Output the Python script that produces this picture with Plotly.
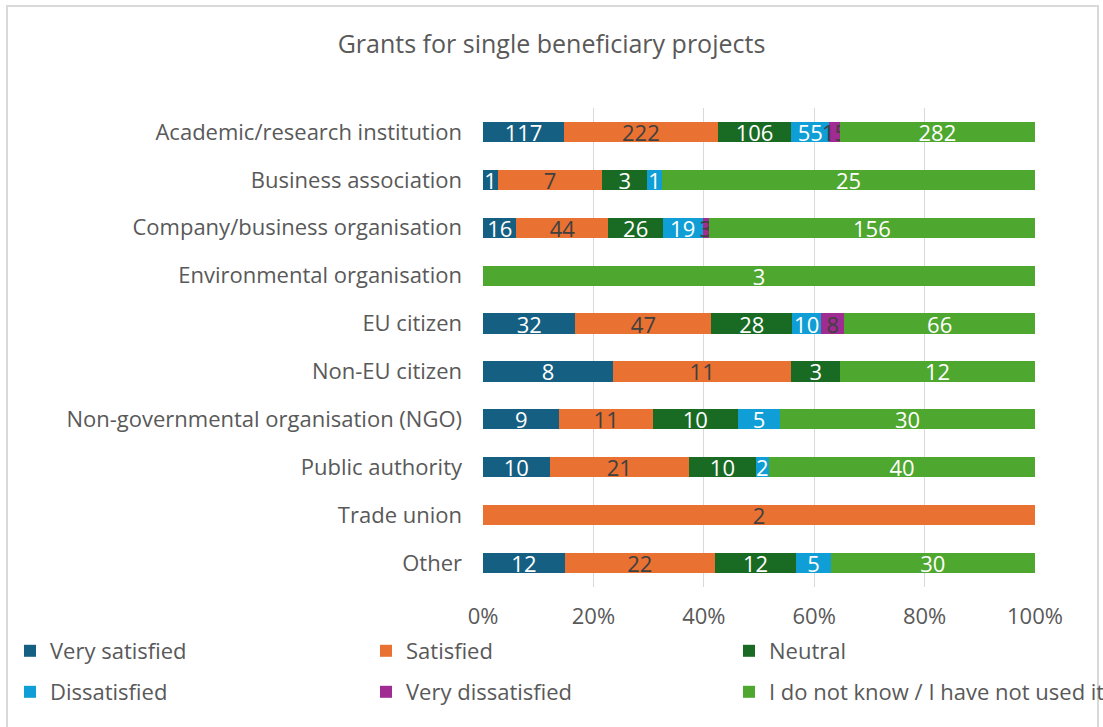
import plotly.graph_objects as go

categories = [
    "Academic/research institution",
    "Business association",
    "Company/business organisation",
    "Environmental organisation",
    "EU citizen",
    "Non-EU citizen",
    "Non-governmental organisation (NGO)",
    "Public authority",
    "Trade union",
    "Other",
]

very_satisfied = [117, 1, 16, 0, 32, 8, 9, 10, 0, 12]
satisfied = [222, 7, 44, 0, 47, 11, 11, 21, 2, 22]
neutral = [106, 3, 26, 0, 28, 3, 10, 10, 0, 12]
dissatisfied = [55, 1, 19, 0, 10, 0, 5, 2, 0, 5]
very_dissatisfied = [15, 0, 3, 0, 8, 0, 0, 0, 0, 0]
not_used = [282, 25, 156, 3, 66, 12, 30, 40, 0, 30]

series = [
    ("Very satisfied", very_satisfied, "#156082", "white"),
    ("Satisfied", satisfied, "#E97132", "#404040"),
    ("Neutral", neutral, "#196B24", "white"),
    ("Dissatisfied", dissatisfied, "#0F9ED5", "white"),
    ("Very dissatisfied", very_dissatisfied, "#A02B93", "#404040"),
    ("I do not know / I have not used it", not_used, "#4EA72E", "white"),
]

# row totals, used to turn counts into 100% stacked shares
totals = [sum(s[1][i] for s in series) for i in range(len(categories))]

FONT = "Open Sans"
FS = 22
TXT = "#595959"
W, H = 1103, 727
ML, MR, MT, MB = 483, 68, 108, 140
pw = W - ML - MR
ph = H - MT - MB

# legend grid: three columns, two rows below the axis (pixel positions)
LEG_COLS = [10, 366, 729]
LEG_ROWS = [651, 692]

fig = go.Figure()
layout_legends = {}
for k, (name, vals, color, tcolor) in enumerate(series):
    shares = [v / t * 100 if t else 0 for v, t in zip(vals, totals)]
    leg_id = "legend" if k == 0 else f"legend{k + 1}"
    fig.add_trace(go.Bar(
        name=name,
        y=categories,
        x=shares,
        orientation="h",
        marker=dict(color=color, line=dict(width=0)),
        text=[str(v) if v else "" for v in vals],
        textposition="inside",
        insidetextanchor="middle",
        textangle=0,
        textfont=dict(family=FONT, size=FS, color=tcolor),
        constraintext="none",
        cliponaxis=False,
        showlegend=True,
        hovertemplate="%{y}<br>" + name + ": %{text}<extra></extra>",
        legend=leg_id,
    ))
    col, row = k % 3, k // 3
    layout_legends[leg_id] = dict(
        orientation="h",
        xref="paper",
        x=(LEG_COLS[col] - ML) / pw,
        xanchor="left",
        yref="paper",
        y=(H - MB - LEG_ROWS[row]) / ph,
        yanchor="middle",
        font=dict(family=FONT, size=FS, color=TXT),
        itemwidth=30,
        bgcolor="rgba(0,0,0,0)",
        visible=True,
    )

fig.update_layout(
    width=W,
    height=H,
    showlegend=True,
    barmode="stack",
    bargap=0.58,
    margin=dict(l=ML, r=MR, t=MT, b=MB, autoexpand=False),
    paper_bgcolor="white",
    plot_bgcolor="white",
    font=dict(family=FONT, size=FS, color=TXT),
    title=dict(
        text="Grants for single beneficiary projects",
        x=0.5, xanchor="center", xref="container",
        y=1 - 44 / H, yanchor="middle", yref="container",
        font=dict(family=FONT, size=25, color=TXT),
    ),
    xaxis=dict(
        range=[0, 100],
        tickvals=[0, 20, 40, 60, 80, 100],
        ticktext=["0%", "20%", "40%", "60%", "80%", "100%"],
        showgrid=True,
        gridcolor="#D9D9D9",
        gridwidth=1,
        zeroline=False,
        showline=False,
        ticks="",
        ticklabelstandoff=14,
        tickfont=dict(family=FONT, size=FS, color=TXT),
        fixedrange=True,
    ),
    yaxis=dict(
        autorange="reversed",
        showgrid=False,
        ticks="",
        ticklabelstandoff=20,
        tickfont=dict(family=FONT, size=FS, color=TXT),
        fixedrange=True,
    ),
    shapes=[dict(
        type="rect",
        xref="paper", yref="paper",
        x0=(7 - ML) / pw, x1=(1098 - ML) / pw,
        y0=-(H + 10 - (H - MB)) / ph, y1=1 + (MT - 6) / ph,
        line=dict(color="#D9D9D9", width=2),
        fillcolor="rgba(0,0,0,0)",
        layer="below",
    )],
    **layout_legends,
)

fig.write_html("out.html")
